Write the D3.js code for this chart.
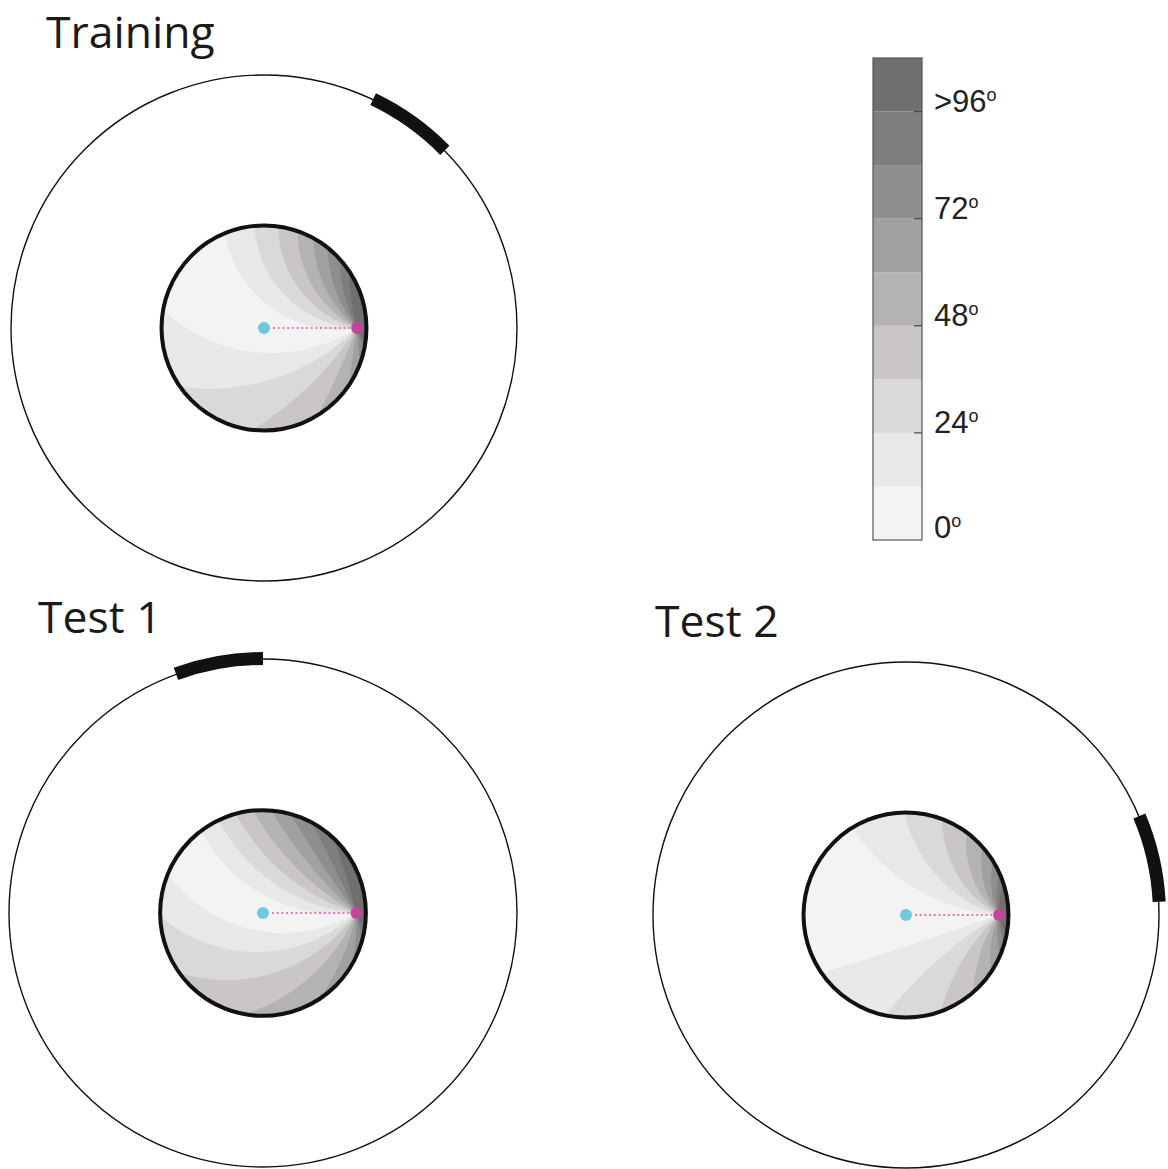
<!DOCTYPE html>
<html>
<head>
<meta charset="utf-8">
<script src="https://cdn.jsdelivr.net/npm/d3@7"></script>
<style>
  html, body { margin: 0; padding: 0; background: #fff; }
  svg { display: block; }
</style>
</head>
<body>
<svg id="chart" width="1168" height="1169"></svg>
<script>
// ---- data ----
const panelTitles = ["Training", "Test 1", "Test 2"];
// bearing of the cue card centre on the arena wall (degrees, counter-clockwise from east)
const cueBearings = [54.5, 100, 13];
const cueSpan = 20;               // angular width of the cue card (degrees)
// geometry in arena-radius units
const arenaRadius = 1;
const poolRadius = 0.405;
const goalDistance = 0.368;       // goal sits east of the pool centre
// heading-error bands (degrees)
const bandEdges = [0, 12, 24, 36, 48, 60, 72, 84, 96];
const bandColors = ["#f3f3f3", "#e8e8e8", "#d9d9d9", "#c9c6c5", "#b4b3b2",
                    "#a3a1a0", "#908e8d", "#807e7d", "#72706f"];
const tickValues = [0, 24, 48, 72, 96];
const tickLabels = ["0", "24", "48", "72", ">96"];

// ---- layout ----
const layout = [
  { cx: 264, cy: 328, R: 253, tx: 46, ty: 48 },
  { cx: 263, cy: 913, R: 254, tx: 38, ty: 633 },
  { cx: 906, cy: 915, R: 253, tx: 655, ty: 637 }
];

const svg = d3.select("#chart");
const defs = svg.append("defs");
const rad = Math.PI / 180;

// angular heading error at p when the goal bearing is taken relative to the cue,
// as learned from the pool centre
function headingError(px, py, cue) {
  const gx = goalDistance, gy = 0;
  const learned = Math.atan2(gy, gx) - Math.atan2(cue[1], cue[0]);
  const here = Math.atan2(gy - py, gx - px) - Math.atan2(cue[1] - py, cue[0] - px);
  let d = (here - learned) / rad;
  d = ((d % 360) + 540) % 360 - 180;
  return Math.abs(d);
}

panelTitles.forEach((title, k) => {
  const L = layout[k];
  const sx = d3.scaleLinear().domain([-arenaRadius, arenaRadius]).range([L.cx - L.R, L.cx + L.R]);
  const sy = d3.scaleLinear().domain([-arenaRadius, arenaRadius]).range([L.cy + L.R, L.cy - L.R]);
  const theta = cueBearings[k] * rad;
  const cue = [arenaRadius * Math.cos(theta), arenaRadius * Math.sin(theta)];
  const g = svg.append("g");

  // title
  g.append("text")
    .attr("x", L.tx).attr("y", L.ty)
    .attr("font-family", "'Open Sans', sans-serif")
    .attr("font-size", 44.5)
    .attr("fill", "#1a1a1a")
    .text(title);

  // arena wall
  const Rpx = sx(arenaRadius) - sx(0);
  g.append("circle")
    .attr("cx", sx(0)).attr("cy", sy(0)).attr("r", Rpx)
    .attr("fill", "none").attr("stroke", "#111").attr("stroke-width", 1.4);

  // cue card
  const t1 = (cueBearings[k] - cueSpan / 2) * rad, t2 = (cueBearings[k] + cueSpan / 2) * rad;
  g.append("path")
    .attr("transform", `translate(${sx(0)},${sy(0)})`)
    .attr("d", d3.arc()({ innerRadius: Rpx - 6, outerRadius: Rpx + 7,
                          startAngle: Math.PI / 2 - t2, endAngle: Math.PI / 2 - t1 }))
    .attr("fill", "#111");

  // heading-error field inside the pool
  const n = 220;
  const step = 2 * poolRadius / n;
  const values = new Array(n * n);
  for (let j = 0; j < n; j++) {
    const y = poolRadius - (j + 0.5) * step;
    for (let i = 0; i < n; i++) {
      const x = -poolRadius + (i + 0.5) * step;
      values[i + j * n] = headingError(x, y, cue);
    }
  }
  const contours = d3.contours().size([n, n]).thresholds(bandEdges)(values);
  const poolPx = sx(poolRadius) - sx(0);
  const clipId = "pool-clip-" + k;
  defs.append("clipPath").attr("id", clipId)
    .append("circle").attr("cx", sx(0)).attr("cy", sy(0)).attr("r", poolPx);

  const field = g.append("g").attr("clip-path", `url(#${clipId})`);
  field.append("circle").attr("cx", sx(0)).attr("cy", sy(0)).attr("r", poolPx)
    .attr("fill", bandColors[0]);
  const cell = (2 * poolPx) / n;
  field.append("g")
    .attr("transform", `translate(${sx(-poolRadius)},${sy(poolRadius)}) scale(${cell})`)
    .selectAll("path")
    .data(contours)
    .join("path")
    .attr("d", d3.geoPath())
    .attr("fill", (d, i) => bandColors[i])
    .attr("stroke", (d, i) => bandColors[i])
    .attr("stroke-width", 0.3);

  // pool wall
  g.append("circle")
    .attr("cx", sx(0)).attr("cy", sy(0)).attr("r", poolPx)
    .attr("fill", "none").attr("stroke", "#111").attr("stroke-width", 4);

  // start-to-goal link, start and goal
  g.append("line")
    .attr("x1", sx(0) + 9).attr("y1", sy(0))
    .attr("x2", sx(goalDistance) - 6).attr("y2", sy(0))
    .attr("stroke", "#e07bbb").attr("stroke-width", 2)
    .attr("stroke-dasharray", "2,2.7");
  g.append("circle").attr("cx", sx(0)).attr("cy", sy(0)).attr("r", 6)
    .attr("fill", "#6fc9dd");
  g.append("circle").attr("cx", sx(goalDistance)).attr("cy", sy(0)).attr("r", 6)
    .attr("fill", "#c2459b");
});

// ---- colour bar ----
const barX = 873, barW = 49;
const cy = d3.scaleLinear().domain([0, 108]).range([540, 58]);
const bar = svg.append("g");
bar.selectAll("rect.band")
  .data(bandEdges)
  .join("rect")
  .attr("class", "band")
  .attr("x", barX).attr("width", barW)
  .attr("y", d => cy(d + 12)).attr("height", d => cy(d) - cy(d + 12))
  .attr("fill", (d, i) => bandColors[i]);
bar.append("rect")
  .attr("x", barX).attr("y", cy(108)).attr("width", barW).attr("height", cy(0) - cy(108))
  .attr("fill", "none").attr("stroke", "#555").attr("stroke-width", 1.2);
bar.selectAll("line.tick")
  .data(tickValues.filter(v => v > 0))
  .join("line")
  .attr("class", "tick")
  .attr("x1", barX + barW - 8).attr("x2", barX + barW)
  .attr("y1", d => cy(d)).attr("y2", d => cy(d))
  .attr("stroke", "#444").attr("stroke-width", 1.2);
const lab = bar.selectAll("text.lab")
  .data(tickValues)
  .join("text")
  .attr("class", "lab")
  .attr("x", 934)
  .attr("y", d => d === 0 ? cy(d) - 2 : cy(d))
  .attr("font-family", "'Liberation Sans', Arial, sans-serif")
  .attr("font-size", 31)
  .attr("fill", "#222");
lab.append("tspan").text((d, i) => tickLabels[i]);
lab.append("tspan").attr("font-size", 18).attr("dy", -11).text("o");
</script>
</body>
</html>
